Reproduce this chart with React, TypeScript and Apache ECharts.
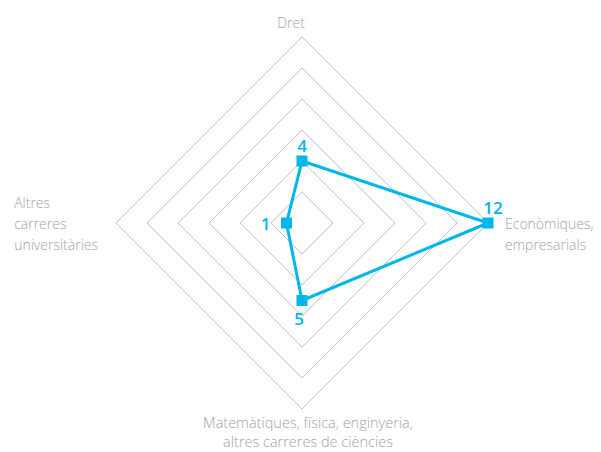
import React, { useEffect, useRef } from "react";
import * as echarts from "echarts";

const indicatorNames = [
  "Dret",
  "Altres carreres universitàries",
  "Matemàtiques, física, enginyeria, altres carreres de ciències",
  "Econòmiques, empresarials",
];
const indicatorMax = 12;
const seriesValues = [4, 1, 5, 12];

const CYAN = "#00b6ea";
const GREY_TEXT = "#a3a3a3";

export default function App() {
  const ref = useRef<HTMLDivElement>(null);
  useEffect(() => {
    if (!ref.current) return;
    const chart = echarts.init(ref.current, undefined, { renderer: "svg" });
    const nameFormatter = (name: string) => {
      if (name === indicatorNames[0]) return "{d|Dret}";
      if (name === indicatorNames[1])
        return "{l|Altres}\n{l|carreres}\n{l|universitàries}";
      if (name === indicatorNames[2])
        return "{b|Matemàtiques, física, enginyeria,}\n{b|altres carreres de ciències}";
      return "{e| }\n{r|Econòmiques,}\n{r|empresarials}";
    };
    const base = { fontFamily: "Open Sans", fontSize: 14, color: GREY_TEXT, lineHeight: 21, fontWeight: 300 };
    chart.setOption({
      animation: false,
      backgroundColor: "#ffffff",
      radar: {
        center: [302, 223],
        radius: 186,
        startAngle: 90,
        splitNumber: 6,
        shape: "polygon",
        nameGap: 4,
        indicator: indicatorNames.map((n) => ({ name: n, min: 0, max: indicatorMax })),
        axisName: {
          ...base,
          formatter: nameFormatter,
          rich: {
            d: { ...base, padding: [0, 22, 0, 0] },
            l: { ...base, align: "left", padding: [0, 14, 0, 0] },
            r: { ...base, align: "left", padding: [0, 0, 0, 13] },
            e: { ...base },
            b: { ...base, fontSize: 14.5, lineHeight: 19, align: "center", padding: [0, 0, 0, 12] },
          },
        },
        splitLine: { lineStyle: { color: "#c4c4c4", width: 1 } },
        splitArea: { show: false },
        axisLine: { show: false },
        axisTick: { show: false },
        axisLabel: { show: false },
      },
      series: [
        {
          type: "radar",
          symbol: "rect",
          symbolSize: 11,
          lineStyle: { color: CYAN, width: 3 },
          itemStyle: { color: CYAN },
          label: {
            show: true,
            position: "inside",
            color: CYAN,
            fontFamily: "Open Sans",
            fontSize: 17,
            fontWeight: 600,
            formatter: (p: any) => {
              const i = p.dimensionIndex;
              const v = Array.isArray(p.value) ? p.value[i] : p.value;
              return ["{t|", "{l|", "{b|", "{r|"][i] + v + "}";
            },
            rich: {
              t: { color: CYAN, fontFamily: "Open Sans", fontSize: 17, fontWeight: 600, padding: [0, 0, 32, 0] },
              l: { color: CYAN, fontFamily: "Open Sans", fontSize: 17, fontWeight: 600, padding: [0, 42, 0, 0] },
              b: { color: CYAN, fontFamily: "Open Sans", fontSize: 17, fontWeight: 600, padding: [36, 6, 0, 0] },
              r: { color: CYAN, fontFamily: "Open Sans", fontSize: 17, fontWeight: 600, padding: [0, 0, 32, 10] },
            },
          },
          data: [{ value: seriesValues, name: "Estudis" }],
        },
      ],
    });
    return () => chart.dispose();
  }, []);
  return (
    <div
      ref={ref}
      style={{ position: "fixed", left: 0, top: 0, width: 601, height: 452, background: "#fff" }}
    />
  );
}
